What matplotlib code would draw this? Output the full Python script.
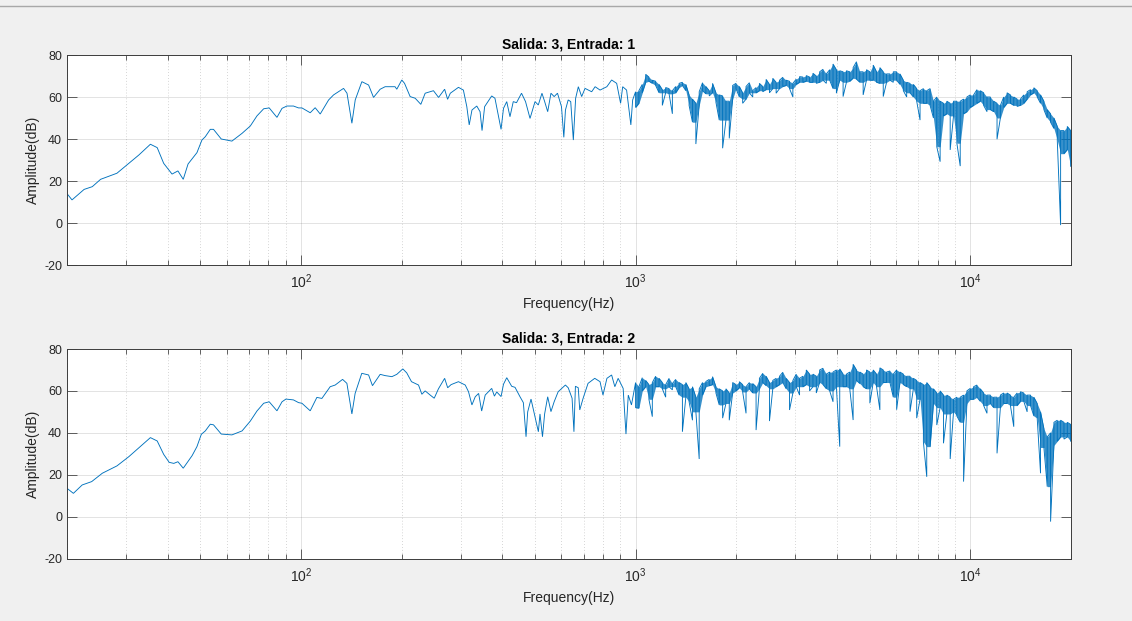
import matplotlib
matplotlib.use('Agg')
import matplotlib.pyplot as plt
import numpy as np
from matplotlib.ticker import NullLocator, NullFormatter, FixedLocator
from matplotlib.lines import Line2D

# ---------------- data ----------------
# Low/mid band, Salida 3 / Entrada 1
freq_lo_1 = [20, 20.7, 22.5, 23.8, 25.2, 28.2, 30.6, 32.8, 35.5, 37.2,
             38.9, 41.2, 42.9, 44.5, 46, 48.9, 50.6, 51.8, 53.6, 54.8,
             57.8, 62.2, 66.7, 70.6, 73.9, 77.4, 80.4, 84.8, 87.8, 90.8,
             95, 98.4, 100.7, 106.6, 110.3, 114.2, 121, 125.2, 134.1, 137.3,
             142, 145.3, 152.1, 159.3, 164.8, 172.5, 178.5, 191.1, 193.4, 200.2,
             204, 212, 219.5, 228.2, 235.1, 248.9, 257.8, 268.8, 274.3, 279.5,
             295.6, 305.8, 313.1, 318.3, 324.4, 335.3, 343, 347.7, 353.9, 371.6,
             380, 396.3, 403, 412.1, 421.4, 431, 440.8, 456.2, 469, 483.7,
             500.6, 512, 525.1, 535, 546.2, 558.6, 571, 584.3, 600.6, 610.3,
             617.2, 628.9, 640, 651.6, 662, 674.4, 690, 706.2, 739.2, 757,
             783, 820.6, 848, 878, 902, 915, 940, 968, 980]
db_lo_1 = [14, 11, 16, 17.3, 20.8, 23.7, 28.4, 32.4, 37.5, 35.9,
           28.4, 23.3, 24.8, 20.8, 28.1, 33.5, 39.5, 41.1, 44.6, 44.6,
           40, 39, 42.7, 46.2, 51, 54.4, 54.8, 50.3, 54.6, 55.7,
           55.7, 54.8, 54.8, 52.5, 54.9, 51.9, 58.6, 61, 64.1, 61.8,
           47.5, 58.6, 67.3, 65.7, 59.8, 63.7, 64.9, 64.9, 63.7, 68.1,
           66.5, 60.2, 59.4, 56.5, 61.8, 63, 59.8, 63.7, 58.9, 61.8,
           64.6, 63.3, 55.4, 46.7, 53.8, 55.7, 53, 44, 55.4, 60.5,
           59.4, 44.6, 54.6, 57.8, 50.6, 57.8, 57.3, 61.8, 57.8, 49.8,
           57.8, 56.2, 61.8, 57.8, 53, 61.8, 60.2, 61.8, 55.4, 40.8,
           53.8, 58.6, 57.8, 39.5, 59.4, 64.9, 60.2, 64.1, 62.5, 64.9,
           63.3, 64.9, 68.1, 66.5, 57, 64.9, 63.3, 46.7, 58.6]

# Low/mid band, Salida 3 / Entrada 2
freq_lo_2 = [20, 20.9, 22.2, 23.7, 25.5, 28.2, 30.6, 33.1, 35.5, 37.2,
             38.9, 40.4, 41.7, 42.9, 44.5, 47.3, 48.9, 50.4, 51.8, 53.6,
             54.8, 57.8, 62.2, 66.7, 70.6, 73.9, 77.4, 80.4, 84.8, 87.8,
             90.2, 95, 98.4, 100.7, 106.6, 111.6, 115.5, 122.3, 126.6, 133.2,
             137.2, 142, 145.2, 152, 159.3, 163.6, 172.5, 178.5, 187, 193.4,
             201.6, 207.1, 214, 224.6, 229.8, 235.1, 243.4, 250.2, 257.6, 268.8,
             274.5, 281, 295.6, 309.7, 316.8, 324.3, 331.8, 339.6, 346.8, 355.3,
             371.6, 378.6, 384.7, 396.3, 403, 412.1, 426.4, 436.3, 451.5, 462,
             470.6, 476, 487, 500.6, 512.3, 518, 527, 534.8, 546.2, 558.6,
             571, 587, 617, 629, 646, 654.3, 661, 674, 681, 697,
             721, 755, 783, 799, 821, 848, 867, 887, 918, 936, 951, 972]
db_lo_2 = [13.5, 11.1, 15.1, 16.7, 20.7, 24.2, 28.6, 33.4, 37.7, 36.1,
           29.7, 25.9, 25.4, 26.2, 23.1, 29.1, 33.4, 39.3, 40.9, 44.1,
           43.8, 39.4, 39, 40.9, 45.6, 50.4, 54.1, 54.8, 50.5, 54.8,
           56.1, 55.7, 54.4, 54.1, 50.5, 56.9, 56.4, 62, 62.8, 65.5,
           63.6, 49, 58.8, 68.4, 67.6, 62.5, 67.9, 67.3, 66.8, 67.9,
           70.5, 68.6, 64.4, 62.8, 58.4, 60, 58, 56.5, 61, 66,
           61.5, 63, 64.4, 62.8, 59.6, 53.3, 57.2, 58.8, 50.4, 58,
           61.2, 57.5, 59.5, 57.3, 63.2, 66.3, 62.2, 61.7, 57.2, 54.4,
           38.1, 50, 56.1, 47.7, 40.5, 49, 38.1, 49, 57.2, 50.1,
           54.8, 59.6, 62.8, 61.5, 56.5, 40.5, 62.2, 61.5, 50.9, 56.5,
           63.6, 66, 64.4, 58, 66, 67.6, 62, 66, 61.2, 39.4, 58, 53.3]

# Dense band (1 kHz - 20 kHz): frequency bins and per-bin max / min of the trace
freq_hi = [1000, 1023, 1047, 1072, 1096, 1122, 1148, 1175, 1202, 1230,
           1259, 1288, 1318, 1349, 1380, 1413, 1445, 1479, 1514, 1549,
           1585, 1622, 1660, 1698, 1738, 1778, 1820, 1862, 1905, 1950,
           1995, 2042, 2089, 2138, 2188, 2239, 2291, 2344, 2399, 2455,
           2512, 2570, 2630, 2692, 2754, 2818, 2884, 2951, 3020, 3090,
           3162, 3236, 3311, 3388, 3467, 3548, 3631, 3715, 3802, 3890,
           3981, 4074, 4169, 4266, 4365, 4467, 4571, 4677, 4786, 4898,
           5012, 5129, 5248, 5370, 5495, 5623, 5754, 5888, 6026, 6166,
           6310, 6457, 6607, 6761, 6918, 7079, 7244, 7413, 7586, 7762,
           7943, 8128, 8318, 8511, 8710, 8913, 9120, 9333, 9550, 9772,
           10000, 10233, 10471, 10715, 10965, 11220, 11482, 11749, 12023, 12303,
           12589, 12882, 13183, 13490, 13804, 14125, 14454, 14791, 15136, 15488,
           15849, 16218, 16596, 16982, 17378, 17783, 18197, 18621, 19055, 19498,
           19953]

max_hi_1 = [62.5, 63, 66, 70.8, 69.5, 68, 67.5, 66, 63.5, 64.5,
            64, 63, 65, 66.5, 67, 66, 61, 59, 57, 62.5,
            66.8, 65, 63, 66.5, 62, 61, 60.5, 58, 58, 65.5,
            66.5, 65, 62, 65, 66.8, 63, 64.5, 66.5, 65, 68.4,
            66, 68.9, 67, 68, 69.4, 68, 67.5, 66.5, 68.5, 69.7,
            69.5, 70.2, 69.5, 71.3, 70, 72, 73.2, 71, 73, 75.7,
            73, 72.5, 72, 72.5, 72, 74, 76.8, 72, 72, 73,
            72, 75.2, 72, 74, 72, 71, 71, 72, 72, 71,
            68, 67, 66.5, 66, 64, 63, 64, 63, 64, 58,
            60, 58, 57, 58, 57, 58, 58, 58, 59, 60,
            61, 61, 63.5, 63, 62, 60, 60, 58, 57, 56,
            60, 62, 61, 60, 59, 59, 61, 62.5, 63.5, 64.4,
            63, 61, 58, 54, 52, 50, 46, 44, 44, 46,
            44]
min_hi_1 = [55, 57, 62, 67, 67.5, 66.5, 65.5, 62, 56, 62,
            61.5, 52, 62, 64.5, 65.5, 63, 56, 48, 37.6, 56,
            63, 61.5, 60.5, 62, 57.5, 49, 35.6, 49, 40.3, 59,
            64, 60, 57, 59, 62, 60, 62, 63, 62.5, 63.5,
            62, 64, 61.8, 64, 65, 65.5, 64, 60, 66, 67,
            67, 67.5, 67, 67, 66.5, 67, 68, 66.5, 68, 64,
            61.8, 68, 60.2, 67, 67.5, 69, 68.5, 67, 61, 68,
            68, 68, 67, 66.5, 60.2, 67, 68, 67, 68, 66,
            63, 60, 62, 60, 58, 49, 57, 57, 56, 50,
            36.3, 29.2, 51, 52, 34.8, 51, 38, 27.1, 52, 53,
            55, 56, 57, 58, 56, 53, 54, 53, 39.9, 50,
            55, 57, 57, 56, 55.5, 56, 57, 59, 61, 62,
            60, 57, 54, 50, 48, 45, 39.5, -1, 33, 35,
            27]

max_hi_2 = [64, 62, 66.3, 65, 63, 64, 67, 66, 64, 63,
            66, 63.5, 65.5, 64, 63, 64, 61, 62, 57, 61,
            64, 64.5, 65.5, 66.8, 62, 61, 60, 61, 59, 64,
            63, 64.4, 63, 62, 64, 63.5, 62, 66, 68.4, 67,
            64, 65, 66, 67, 68.9, 66, 64, 65, 68, 66,
            67, 70, 68, 68, 67, 70, 70.8, 68, 69, 69,
            70, 70.5, 68, 68, 69, 72.7, 70, 69, 68, 70,
            69, 70, 68, 71, 70, 69, 69.5, 68, 70, 69,
            68, 67, 67, 66, 65, 64, 63, 64, 62, 61,
            59, 60, 58, 58, 57, 56, 57, 57, 58, 60,
            61.2, 62, 62.8, 61, 59, 58, 58, 57, 57, 58,
            59, 59, 58, 57, 59, 59.6, 59, 58, 58, 57,
            54, 50, 42, 38, 40, 45, 46, 46, 45, 45,
            44]
min_hi_2 = [52, 51.7, 60, 62, 56, 47.7, 62, 62, 61, 57,
            62, 60.5, 62, 58, 40.5, 57, 54.8, 46, 50, 27.5,
            58, 62, 62.5, 63, 59, 53.3, 47, 54, 46, 59,
            60, 61.5, 59.5, 49.3, 61, 59, 41.3, 61, 64, 62.5,
            45.6, 61, 62, 63, 64, 61, 50.9, 59, 62, 58,
            62, 63, 60, 62, 59, 64, 63, 61, 60, 54.8,
            62, 33.4, 62, 62, 61, 46.1, 65, 63.5, 62, 61,
            54.1, 64, 62, 50.9, 64, 64, 64, 57, 51, 64,
            63, 62, 50.1, 61, 47, 56, 35.7, 19, 33.4, 54,
            43.7, 52, 35, 49, 27.5, 50, 48, 45, 16.7, 54,
            56, 56, 57, 55, 53, 49.3, 54, 52, 30.2, 52,
            54, 54, 53, 42.9, 53, 55, 55, 50, 53, 48,
            47, 20.7, 33, 14.3, -2.4, 34, 36, 38, 37, 38,
            36]

titles = ['Salida: 3, Entrada: 1', 'Salida: 3, Entrada: 2']
xticks = [100, 1000, 10000]
xtick_labels = [r'$10^2$', r'$10^3$', r'$10^4$']
yticks = [-20, 0, 20, 40, 60, 80]

LINE = '#0072BD'


def trace(f_lo, d_lo, f_hi, d_max, d_min):
    """Join the low-band points with the per-bin max/min strokes of the dense band."""
    f_hi = np.asarray(f_hi, float)
    d_max = np.asarray(d_max, float)
    d_min = np.asarray(d_min, float)
    n = len(f_hi)
    xs = np.repeat(f_hi, 2)
    ys = np.empty(2 * n)
    even = (np.arange(n) % 2 == 0)
    ys[0::2] = np.where(even, d_max, d_min)
    ys[1::2] = np.where(even, d_min, d_max)
    return (np.concatenate([np.asarray(f_lo, float), xs]),
            np.concatenate([np.asarray(d_lo, float), ys]))


def core_band(d_max, d_min):
    """Lower edge of the dense body of the trace: isolated deep notches are left to the line."""
    d_min = np.asarray(d_min, float)
    padded = np.concatenate([[d_min[0]], d_min, [d_min[-1]]])
    med = np.median(np.vstack([padded[:-2], padded[1:-1], padded[2:]]), axis=0)
    lo = np.maximum(d_min, med)
    return np.minimum(lo, np.asarray(d_max, float))


series = [(trace(freq_lo_1, db_lo_1, freq_hi, max_hi_1, min_hi_1), max_hi_1,
           core_band(max_hi_1, min_hi_1)),
          (trace(freq_lo_2, db_lo_2, freq_hi, max_hi_2, min_hi_2), max_hi_2,
           core_band(max_hi_2, min_hi_2))]

# ---------------- style ----------------
plt.rcParams['font.family'] = ['Liberation Sans', 'DejaVu Sans']
plt.rcParams['mathtext.fontset'] = 'custom'
plt.rcParams['mathtext.rm'] = 'Liberation Sans'
plt.rcParams['mathtext.it'] = 'Liberation Sans:italic'
plt.rcParams['mathtext.bf'] = 'Liberation Sans:bold'

W, H = 1132, 621
fig = plt.figure(figsize=(W / 100, H / 100), dpi=100, facecolor='#f0f0f0')
fig.add_artist(Line2D([0, 1], [1 - 6 / H, 1 - 6 / H], color='#a8a8a8', lw=1.0,
                      transform=fig.transFigure))

boxes = [(67, 55, 1071, 265), (67, 349, 1071, 558.5)]
txt = '#262626'

for (x0, y0, x1, y1), ((fx, fy), band_hi, band_lo), title in zip(boxes, series, titles):
    ax = fig.add_axes([x0 / W, (H - y1) / H, (x1 - x0) / W, (y1 - y0) / H])
    ax.set_facecolor('white')
    ax.set_xscale('log')
    ax.set_xlim(20, 20000)
    ax.set_ylim(-20, 80)
    ax.set_axisbelow(True)

    ax.fill_between(freq_hi, band_lo, band_hi, color=LINE, alpha=0.78, lw=0)
    ax.plot(fx, fy, color=LINE, lw=0.65, solid_joinstyle='miter')

    ax.xaxis.set_major_locator(FixedLocator(xticks))
    ax.set_xticklabels(xtick_labels)
    ax.xaxis.set_minor_formatter(NullFormatter())
    ax.set_yticks(yticks)
    ax.set_yticklabels([str(v) for v in yticks])
    ax.yaxis.set_minor_locator(NullLocator())

    ax.grid(True, which='major', color='#262626', alpha=0.15, lw=0.6)
    ax.grid(True, which='minor', axis='x', color='#262626', alpha=0.25,
            lw=0.6, ls=(0, (1, 2.5)))

    for s in ax.spines.values():
        s.set_color('#3c3c3c')
        s.set_linewidth(0.7)

    ax.tick_params(which='both', direction='in', top=True, right=True,
                   color='#262626', width=0.5, labelcolor=txt)
    ax.tick_params(which='major', length=7.0, labelsize=9)
    ax.tick_params(which='minor', length=3.6)
    ax.tick_params(axis='x', which='major', pad=5.5, labelsize=10)
    ax.tick_params(axis='y', which='major', pad=3.5)

    ax.set_xlabel('Frequency(Hz)', fontsize=10, color=txt, labelpad=4.5)
    ax.set_ylabel('Amplitude(dB)', fontsize=10, color=txt, labelpad=3)
    ax.set_title(title, fontsize=10, fontweight='bold', color='black', pad=5)

fig.savefig('out.png', dpi=100, facecolor=fig.get_facecolor())
